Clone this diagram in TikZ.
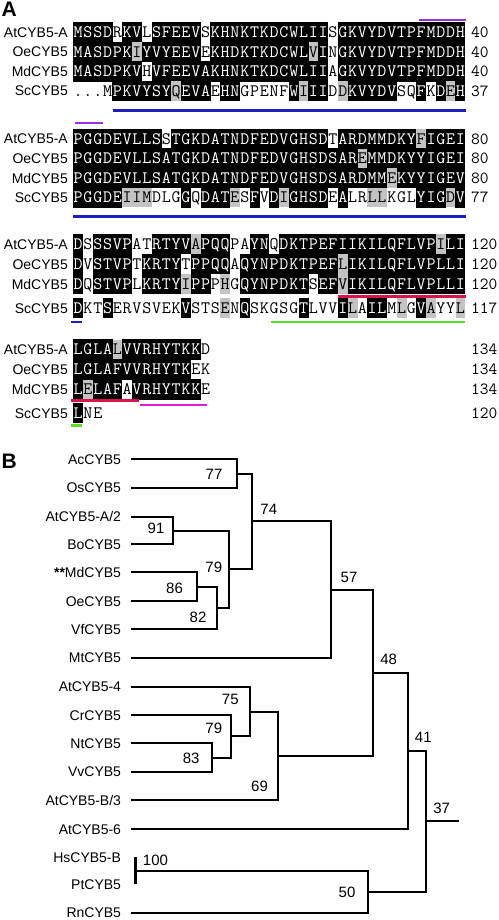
\documentclass[tikz,border=0pt]{standalone}
\usepackage{fontspec}
\usepackage{xstring}
\usepackage{tikz}
\usetikzlibrary{calc}
\newfontfamily\arialfont{Liberation Sans}
\definecolor{shadegrey}{RGB}{195,195,195}
\definecolor{motifpurple}{RGB}{150,50,225}
\definecolor{motifblue}{RGB}{30,30,190}
\definecolor{motifred}{RGB}{215,20,75}
\definecolor{motifmagenta}{RGB}{225,30,215}
\definecolor{motifgreen}{RGB}{90,220,40}

\tikzset{
  res/.style={font=\ttfamily\fontsize{17.5}{19}\selectfont, inner sep=0pt, text height=10.6pt, text depth=0pt},
  seqname/.style={font=\arialfont\fontsize{14}{16}\selectfont, inner sep=0pt, text height=10pt, text depth=0pt, anchor=east},
  seqnum/.style={font=\ttfamily\fontsize{17}{19}\selectfont, inner sep=0pt, text height=10.4pt, text depth=0pt, anchor=west},
  motif/.style={line width=2.5pt},
  leaf/.style={font=\arialfont\fontsize{14}{16}\selectfont, inner sep=0pt, outer xsep=10pt, text height=10pt, text depth=0pt, anchor=east},
  boot/.style={font=\arialfont\fontsize{15}{17}\selectfont, inner sep=0pt, text height=10.7pt, text depth=0pt},
  branch/.style={line width=2pt},
  panel/.style={font=\arialfont\bfseries\fontsize{21}{24}\selectfont, inner sep=0pt, anchor=base west}
}

% one aligned sequence: name, y, label, residues, shading (b/g/w), end number
\newcommand{\alnrow}[6]{%
  \node[seqname] (#1) at (68,#2) {#3};
  \StrLen{#4}[\nres]
  \foreach \ci in {1,...,\nres}{
    \StrChar{#4}{\ci}[\res]
    \StrChar{#5}{\ci}[\shd]
    \pgfmathsetmacro{\cx}{78.2+(\ci-1)*9.8}
    \def\rescol{black}
    \IfStrEq{\shd}{b}{\fill[black] (\cx-5.05,#2-10.1) rectangle (\cx+5.05,#2+10.1); \def\rescol{white}}{}
    \IfStrEq{\shd}{g}{\fill[shadegrey] (\cx-4.9,#2-9.9) rectangle (\cx+4.9,#2+9.9);}{}
    \node[res, text=\rescol] (#1-\ci) at (\cx,#2) {\res};
  }
  \node[seqnum] (#1-n) at (471,#2) {#6};
}

\begin{document}
\begin{tikzpicture}[x=1pt,y=-1pt]
  \useasboundingbox (0,0) rectangle (498,920);

  % panel A: alignment
  \node[panel] (pa) at (1.5,16.7) {A};

  \alnrow{a1}{32.5}{AtCYB5-A}{MSSDRKVLSFEEVSKHNKTKDCWLIISGKVYDVTPFMDDH}{bbbbwbbwbbbbbwbbbbbbbbbbbbwbbbbbbbbbbbbb}{40}
  \alnrow{o1}{52}{OeCYB5}{MASDPKIYVYEEVEKHDKTKDCWLVINGKVYDVTPFMDDH}{bbbbbbgbbbbbbwbbbbbbbbbbgbwbbbbbbbbbbbbb}{40}
  \alnrow{m1}{71.5}{MdCYB5}{MASDPKVHVFEEVAKHNKTKDCWLIIAGKVYDVTPFMDDH}{bbbbbbbwbbbbbbbbbbbbbbbbbbwbbbbbbbbbbbbb}{40}
  \alnrow{s1}{91}{ScCYB5}{...MPKVYSYQEVAEHNGPENFWIIIDDKVYDVSQFKDEH}{wwwwbbbbbbgbbbwbbwwwwwbgbbwgbbbbbwwbwbgb}{37}

  \alnrow{a2}{139}{AtCYB5-A}{PGGDEVLLSSTGKDATNDFEDVGHSDTARDMMDKYFIGEI}{bbbbbbbbbwbbbbbbbbbbbbbbbbwbbbbbbbbgbbbb}{80}
  \alnrow{o2}{158.5}{OeCYB5}{PGGDEVLLSATGKDATNDFEDVGHSDSAREMMDKYYIGEI}{bbbbbbbbbbbbbbbbbbbbbbbbbbbbbgbbbbbbbbbb}{80}
  \alnrow{m2}{178}{MdCYB5}{PGGDEVLLSATGKDATNDFEDVGHSDSARDMMEKYYIGEV}{bbbbbbbbbbbbbbbbbbbbbbbbbbbbbbbbgbbbbbbb}{80}
  \alnrow{s2}{197.5}{ScCYB5}{PGGDEIIMDLGGQDATESFVDIGHSDEALRLLKGLYIGDV}{bbbbbgggwwwbwbbbgwbwbgbbbbwbwwggwwwbbbgb}{77}

  \alnrow{a3}{244}{AtCYB5-A}{DSSSVPATRTYVAPQQPAYNQDKTPEFIIKILQFLVPILI}{bwbbbbwwbbbbgbbbwwbbwbbbbbbbbbbbbbbbbgbb}{120}
  \alnrow{o3}{264}{OeCYB5}{DVSTVPTKRTYTPPQQAQYNPDKTPEFLIKILQFLVPLLI}{bwbbbbwbbbbwbbbbwbbbbbbbbbbgbbbbbbbbbbbb}{120}
  \alnrow{m3}{284}{MdCYB5}{DQSTVPLKRTYIPPPHGQYNPDKTSEFVIKILQFLVPLLI}{bwbbbbwbbbbgbbwgwbbbbbbbwbbgbbbbbbbbbbbb}{120}
  \alnrow{s3}{308}{ScCYB5}{DKTSERVSVEKVSTSENQSKGSGTLVVILAILMLGVAYYL}{bwwbwwwwwwwbwwwgwbwwwwwbwwwbgwbbwgwbgwwg}{117}

  \alnrow{a4}{349.5}{AtCYB5-A}{LGLALVVRHYTKKD}{bbbbgbbbbbbbbw}{134}
  \alnrow{o4}{369.5}{OeCYB5}{LGLAFVVRHYTKEK}{bbbbbbbbbbbbww}{134}
  \alnrow{m4}{389.5}{MdCYB5}{LELAFAVRHYTKKE}{bgbbbwbbbbbbbw}{134}
  \alnrow{s4}{413}{ScCYB5}{LNE}{bww}{120}

  % motif bars
  \draw[motif, motifpurple] (419,20) -- (466,20);
  \draw[motif, motifblue] (112.5,110.5) -- (466,110.5);
  \draw[motif, motifpurple] (75,123) -- (103,123);
  \draw[motif, motifblue] (73.3,216.5) -- (466,216.5);
  \draw[motif, motifred] (338,296.5) -- (465.5,296.5);
  \draw[motif, motifblue] (71,322) -- (82,322);
  \draw[motif, motifgreen] (271,322) -- (465,322);
  \draw[motif, motifred] (71,400.5) -- (139,400.5);
  \draw[motif, motifmagenta] (140,405) -- (207,405);
  \draw[motif, motifgreen] (71,425.5) -- (82,425.5);

  % panel B: tree
  \node[panel] (pb) at (1.5,468) {B};

  \node[leaf] (ac) at (131,459.3) {AcCYB5};
  \node[leaf] (os) at (131,487.7) {OsCYB5};
  \node[leaf] (at2) at (131,516.7) {AtCYB5-A/2};
  \node[leaf] (bo) at (131,544.3) {BoCYB5};
  \node[leaf] (md) at (131,572.3) {{\bfseries **}MdCYB5};
  \node[leaf] (oe) at (131,601) {OeCYB5};
  \node[leaf] (vf) at (131,629) {VfCYB5};
  \node[leaf] (mt) at (131,657.7) {MtCYB5};
  \node[leaf] (at4) at (131,686.7) {AtCYB5-4};
  \node[leaf] (cr) at (131,715) {CrCYB5};
  \node[leaf] (nt) at (131,743.3) {NtCYB5};
  \node[leaf] (vv) at (131,771.7) {VvCYB5};
  \node[leaf] (at3) at (131,800) {AtCYB5-B/3};
  \node[leaf] (at6) at (131,829.3) {AtCYB5-6};
  \node[leaf] (hs) at (131,857) {HsCYB5-B};
  \node[leaf] (pt) at (131,884) {PtCYB5};
  \node[leaf] (rn) at (131,912.5) {RnCYB5};

  % internal nodes
  \coordinate (n77) at (237.3,473.5);
  \coordinate (n91) at (173,530.5);
  \coordinate (n86) at (197.3,586.7);
  \coordinate (n82) at (216.7,607.8);
  \coordinate (n79a) at (229,569.2);
  \coordinate (n74) at (251.7,521.3);
  \coordinate (n57) at (331,589.5);
  \coordinate (n83) at (211.7,757.5);
  \coordinate (n79b) at (230.7,736.2);
  \coordinate (n75) at (250,711.5);
  \coordinate (n69) at (278.3,755.7);
  \coordinate (n48) at (373,672.6);
  \coordinate (n41) at (407.5,751);
  \coordinate (n100) at (135,870.5);
  \coordinate (n50) at (367.7,891.5);
  \coordinate (n37) at (425.7,821.2);
  \coordinate (root) at (459,821.2);

  % branches
  \draw[branch] (ac.east) -| (n77);
  \draw[branch] (os.east) -| (n77);
  \draw[branch] (at2.east) -| (n91);
  \draw[branch] (bo.east) -| (n91);
  \draw[branch] (md.east) -| (n86);
  \draw[branch] (oe.east) -| (n86);
  \draw[branch] (n86) -| (n82);
  \draw[branch] (vf.east) -| (n82);
  \draw[branch] (n91) -| (n79a);
  \draw[branch] (n82) -| (n79a);
  \draw[branch] (n77) -| (n74);
  \draw[branch] (n79a) -| (n74);
  \draw[branch] (n74) -| (n57);
  \draw[branch] (mt.east) -| (n57);
  \draw[branch] (nt.east) -| (n83);
  \draw[branch] (vv.east) -| (n83);
  \draw[branch] (cr.east) -| (n79b);
  \draw[branch] (n83) -| (n79b);
  \draw[branch] (at4.east) -| (n75);
  \draw[branch] (n79b) -| (n75);
  \draw[branch] (n75) -| (n69);
  \draw[branch] (at3.east) -| (n69);
  \draw[branch] (n57) -| (n48);
  \draw[branch] (n69) -| (n48);
  \draw[branch] (n48) -| (n41);
  \draw[branch] (at6.east) -| (n41);
  \draw[line width=3pt] ([xshift=4pt]hs.east) -- ([xshift=4pt]pt.east);
  \draw[branch] (n100) -| (n50);
  \draw[branch] (rn.east) -| (n50);
  \draw[branch] (n41) -| (n37);
  \draw[branch] (n50) -| (n37);
  \draw[branch] (n37) -- (root);

  % bootstrap values
  \node[boot] (s77) at (214,474.3) {77};
  \node[boot] (s74) at (268.8,509.3) {74};
  \node[boot] (s91) at (156,528.3) {91};
  \node[boot] (s79a) at (213.8,566.7) {79};
  \node[boot] (s86) at (174.5,588.3) {86};
  \node[boot] (s82) at (198,616.7) {82};
  \node[boot] (s57) at (349,576.7) {57};
  \node[boot] (s48) at (388.7,659.3) {48};
  \node[boot] (s75) at (230.3,699.3) {75};
  \node[boot] (s79b) at (213.8,727.7) {79};
  \node[boot] (s83) at (191.2,758.3) {83};
  \node[boot] (s69) at (259.5,786) {69};
  \node[boot] (s41) at (423.3,736.7) {41};
  \node[boot] (s37) at (441.7,807.7) {37};
  \node[boot] (s100) at (155.5,860) {100};
  \node[boot] (s50) at (347,892.3) {50};
\end{tikzpicture}
\end{document}
